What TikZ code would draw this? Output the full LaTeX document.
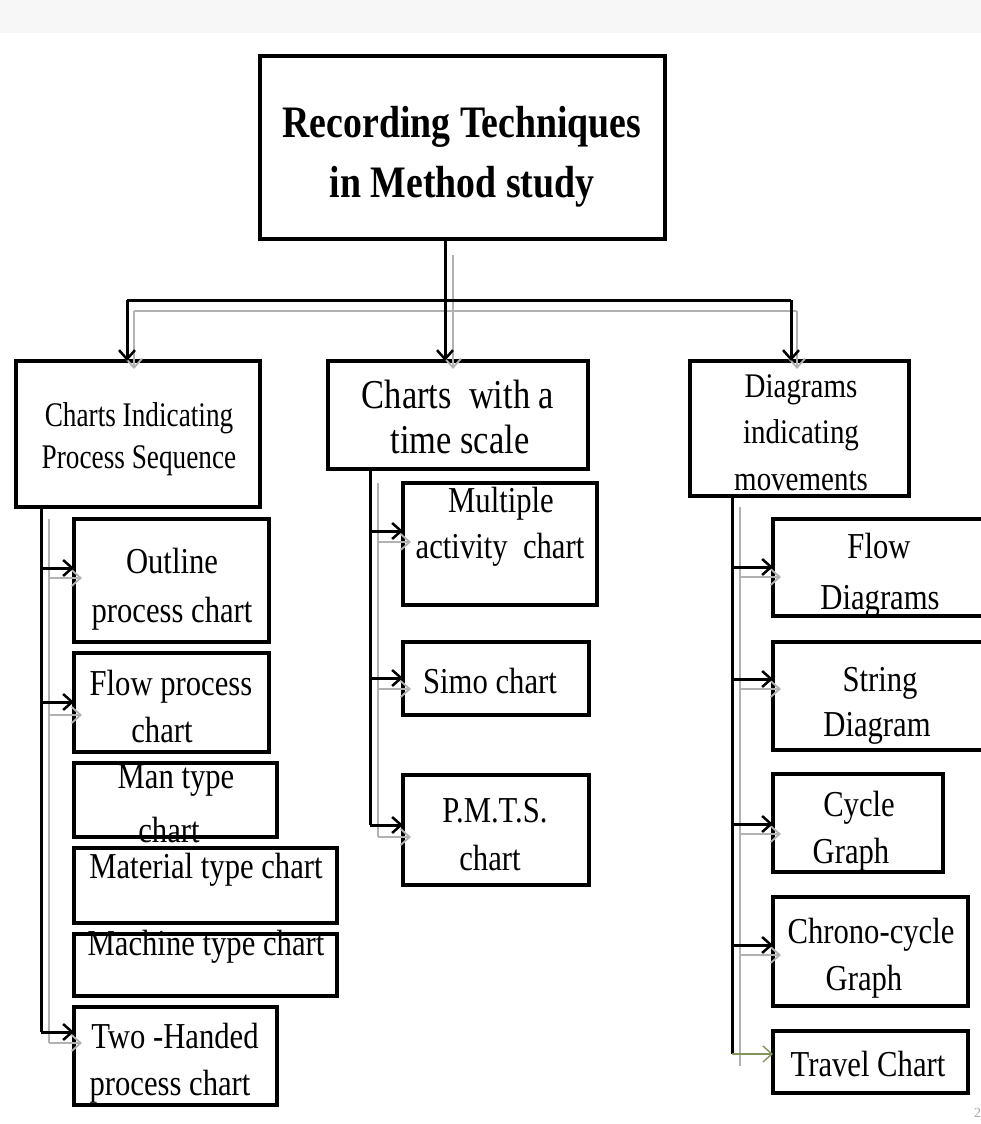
\documentclass[tikz,border=0pt]{standalone}
\usepackage{fontspec}
\setmainfont{Liberation Serif}
\usepackage{graphicx}
\usetikzlibrary{arrows.meta}
\newcommand\sqz[1]{\scalebox{0.84}[1]{#1}}
\newcommand\sqn[1]{\scalebox{0.79}[1]{#1}}
\newcommand\bx[5]{\node[box, minimum width={#4-#2}, minimum height={#5-#3}] (#1) at ({(#2+#4)/2},{(#3+#5)/2}) {};}
\tikzset{
  box/.style={draw=black, line width=3.5pt, inner sep=0pt, outer sep=0pt, fill=white},
  conn/.style={draw=black, line width=3pt},
  ghost/.style={draw=black!30, line width=2pt},
  btip/.style={-{Straight Barb[length=9pt,width=16pt,line width=2.5pt]}},
  gtip/.style={-{Straight Barb[length=9pt,width=16pt,line width=1.8pt]}, shorten >=-8pt},
  ttl/.style={anchor=base, inner sep=0pt, font=\fontsize{45}{50}\selectfont\bfseries},
  tb/.style={anchor=base, inner sep=0pt, font=\fontsize{34.5}{40}\selectfont},
  tm/.style={anchor=base, inner sep=0pt, font=\fontsize{41}{45}\selectfont},
  tl/.style={anchor=base, inner sep=0pt, font=\fontsize{36.5}{40}\selectfont},
}
\begin{document}
\begin{tikzpicture}[x=1pt,y=-1pt]
\clip (0,0) rectangle (981,1124);
\fill[white] (0,0) rectangle (981,1124);
\fill[black!3] (0,0) rectangle (981,33);

% boxes
\bx{title}{260}{56}{665}{239}
\bx{pcs}{16}{361}{260}{507}
\bx{tsc}{328}{361}{588}{469}
\bx{dmv}{690}{361}{909}{496}
\bx{outline}{74}{519}{269}{642}
\bx{flowpc}{74}{653}{269}{752}
\bx{mantype}{74}{763}{277}{837}
\bx{material}{74}{848}{337}{923}
\bx{machine}{74}{934}{337}{996}
\bx{twohand}{74}{1007}{277}{1105}
\bx{multiple}{403}{483}{597}{605}
\bx{simo}{403}{642}{589}{715}
\bx{pmts}{403}{775}{589}{885}
\bx{flowd}{773}{519}{995}{616}
\bx{string}{773}{642}{995}{750}
\bx{cycle}{773}{774}{943}{872}
\bx{chrono}{773}{897}{968}{1006}
\bx{travel}{773}{1031}{968}{1093}

% level 1 -> level 2 (ghost)
\coordinate (g0) at (453,255);
\coordinate (gL) at (134,311);
\coordinate (gM) at (453,311);
\coordinate (gR) at (797,311);
\draw[ghost] (g0) -- (gM);
\draw[ghost] (gL) -- (gR);
\draw[ghost,gtip] (gL) -- (pcs.north -| gL);
\draw[ghost,gtip] (gM) -- (tsc.north -| gM);
\draw[ghost,gtip] (gR) -- (dmv.north -| gR);
% level 1 -> level 2 (black)
\coordinate (bL) at (127,300);
\coordinate (bM) at (445,300);
\coordinate (bR) at (791,300);
\draw[conn] (title.south -| bM) -- (bM);
\draw[conn] (bL) -- (bR);
\draw[conn,btip] (bL) -- (pcs.north -| bL);
\draw[conn,btip] (bM) -- (tsc.north -| bM);
\draw[conn,btip] (bR) -- (dmv.north -| bR);

% left column
\coordinate (lg0) at (49,519);
\coordinate (lg1) at (49,578);
\coordinate (lg2) at (49,715);
\coordinate (lg3) at (49,1043);
\draw[ghost] (lg0) -- (lg3);
\draw[ghost,gtip] (lg1) -- (outline.west |- lg1);
\draw[ghost,gtip] (lg2) -- (flowpc.west |- lg2);
\draw[ghost,gtip] (lg3) -- (twohand.west |- lg3);
\coordinate (la1) at (41,568);
\coordinate (la2) at (41,702);
\coordinate (la3) at (41,1032);
\draw[conn] (pcs.south -| la1) -- (la3);
\draw[conn,btip] (la1) -- (outline.west |- la1);
\draw[conn,btip] (la2) -- (flowpc.west |- la2);
\draw[conn,btip] (la3) -- (twohand.west |- la3);

% middle column
\coordinate (mg0) at (378,483);
\coordinate (mg1) at (378,542);
\coordinate (mg2) at (378,689);
\coordinate (mg3) at (378,837);
\draw[ghost] (mg0) -- (mg3);
\draw[ghost,gtip] (mg1) -- (multiple.west |- mg1);
\draw[ghost,gtip] (mg2) -- (simo.west |- mg2);
\draw[ghost,gtip] (mg3) -- (pmts.west |- mg3);
\coordinate (ma1) at (370,531);
\coordinate (ma2) at (370,678);
\coordinate (ma3) at (370,825);
\draw[conn] (tsc.south -| ma1) -- (ma3);
\draw[conn,btip] (ma1) -- (multiple.west |- ma1);
\draw[conn,btip] (ma2) -- (simo.west |- ma2);
\draw[conn,btip] (ma3) -- (pmts.west |- ma3);

% right column
\coordinate (rg0) at (740,507);
\coordinate (rg1) at (740,577);
\coordinate (rg2) at (740,689);
\coordinate (rg3) at (740,834);
\coordinate (rg4) at (740,955);
\coordinate (rg5) at (740,1066);
\draw[ghost] (rg0) -- (rg5);
\draw[ghost,gtip] (rg1) -- (flowd.west |- rg1);
\draw[ghost,gtip] (rg2) -- (string.west |- rg2);
\draw[ghost,gtip] (rg3) -- (cycle.west |- rg3);
\draw[ghost,gtip] (rg4) -- (chrono.west |- rg4);
\coordinate (ra1) at (732,567);
\coordinate (ra2) at (732,679);
\coordinate (ra3) at (732,824);
\coordinate (ra4) at (732,945);
\coordinate (ra5) at (732,1054);
\draw[conn] (dmv.south -| ra1) -- (ra5);
\draw[conn,btip] (ra1) -- (flowd.west |- ra1);
\draw[conn,btip] (ra2) -- (string.west |- ra2);
\draw[conn,btip] (ra3) -- (cycle.west |- ra3);
\draw[conn,btip] (ra4) -- (chrono.west |- ra4);
\draw[draw={rgb,255:red,130;green,150;blue,90}, line width=1.6pt,
  -{Straight Barb[length=9pt,width=16pt,line width=1.4pt]}] (ra5) -- (travel.west |- ra5);

% texts
\node[ttl] (t0a) at (462,137) {\sqz{Recording Techniques}};
\node[ttl] (t0b) at (462,197) {\sqz{in Method study}};

\node[tb] (t1a) at (139,426) {\sqn{Charts Indicating}};
\node[tb] (t1b) at (139,468) {\sqn{Process Sequence}};
\node[tm] (t2a) at (458,408) {\sqz{Charts\ \ with a}};
\node[tm] (t2b) at (460,453) {\sqz{time scale}};
\node[tb] (t3a) at (801,397) {\sqz{Diagrams}};
\node[tb] (t3b) at (801,443) {\sqz{indicating}};
\node[tb] (t3c) at (801,490) {\sqz{movements}};

\node[tl] (a1a) at (172,573) {\sqz{Outline}};
\node[tl] (a1b) at (172,622) {\sqz{process chart}};
\node[tl] (a2a) at (171,695) {\sqz{Flow process}};
\node[tl] (a2b) at (162,742) {\sqz{chart}};
\node[tl] (a3a) at (176,788) {\sqz{Man type}};
\node[tl] (a3b) at (169,842) {\sqz{chart}};
\node[tl] (a4) at (206,878) {\sqz{Material type chart}};
\node[tl] (a5) at (206,955) {\sqz{Machine type chart}};
\node[tl] (a6a) at (175,1048) {\sqz{Two -Handed}};
\node[tl] (a6b) at (170,1095) {\sqz{process chart}};

\node[tl] (b1a) at (501,512) {\sqz{Multiple}};
\node[tl] (b1b) at (500,558) {\sqz{activity\ \ chart}};
\node[tl] (b2) at (490,693) {\sqz{Simo chart}};
\node[tl] (b3a) at (495,822) {\sqz{P.M.T.S.}};
\node[tl] (b3b) at (490,870) {\sqz{chart}};

\node[tl] (c1a) at (879,558) {\sqz{Flow}};
\node[tl] (c1b) at (880,609) {\sqz{Diagrams}};
\node[tl] (c2a) at (880,691) {\sqz{String}};
\node[tl] (c2b) at (877,736) {\sqz{Diagram}};
\node[tl] (c3a) at (859,816) {\sqz{Cycle}};
\node[tl] (c3b) at (851,863) {\sqz{Graph}};
\node[tl] (c4a) at (871,943) {\sqz{Chrono-cycle}};
\node[tl] (c4b) at (864,990) {\sqz{Graph}};
\node[tl] (c5) at (868,1076) {\sqz{Travel Chart}};

\node[anchor=base west, inner sep=0pt, text=black!35, font=\fontsize{14}{14}\selectfont] (pg) at (974,1117) {2};
\end{tikzpicture}
\end{document}
